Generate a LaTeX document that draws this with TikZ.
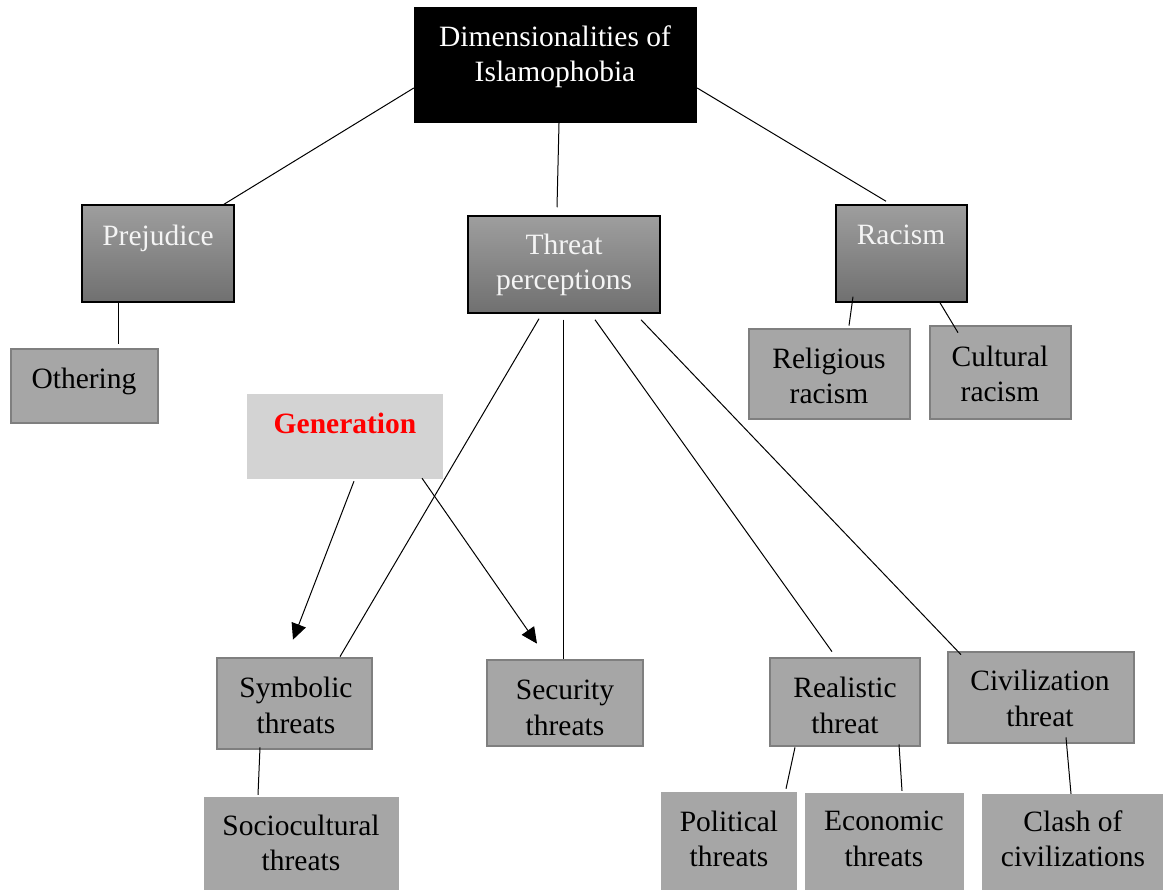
\documentclass[tikz,border=0pt]{standalone}
\usepackage{fontspec}
\setmainfont{Liberation Serif}
\usetikzlibrary{arrows.meta,calc}
\definecolor{gtop}{HTML}{9E9E9E}
\definecolor{gbot}{HTML}{707070}
\definecolor{boxfill}{HTML}{A6A6A6}
\definecolor{boxline}{HTML}{7F7F7F}
\definecolor{genfill}{HTML}{D3D3D3}
\definecolor{gentext}{HTML}{FF0000}
\definecolor{wtext}{HTML}{F4F4F4}
\begin{document}
\begin{tikzpicture}[x=1pt,y=-1pt,
  gbox/.style={draw=black, line width=1.5pt, top color=gtop, bottom color=gbot, inner sep=0pt},
  bbox/.style={fill=boxfill, draw=boxline, line width=2.7pt, inner sep=0pt},
  pbox/.style={fill=boxfill, inner sep=0pt},
  dbox/.style={fill=black, inner sep=0pt},
  genbox/.style={fill=genfill, inner sep=0pt},
  txt/.style={font=\fontsize{29.5}{35.5}\selectfont, align=center, inner sep=0pt},
  wtxt/.style={txt, text=wtext},
  link/.style={line width=1pt},
  arr/.style={link, -{Triangle[length=16pt,width=15pt]}}
]
\useasboundingbox (0,0) rectangle (1163,890);

% boxes
\node[dbox, minimum width=283pt, minimum height=116pt] (dim) at (555.5,65) {};
\node[gbox, minimum width=152pt, minimum height=97pt] (prej) at (158,253.5) {};
\node[gbox, minimum width=192pt, minimum height=97pt] (threat) at (564,264.5) {};
\node[gbox, minimum width=131pt, minimum height=97pt] (racism) at (901.5,253.5) {};
\node[bbox, minimum width=147pt, minimum height=74pt] (oth) at (84.5,386) {};
\node[bbox, minimum width=161pt, minimum height=90pt] (rel) at (829.5,374) {};
\node[bbox, minimum width=141pt, minimum height=93pt] (cul) at (1000.5,372.5) {};
\node[genbox, minimum width=196pt, minimum height=85pt] (gen) at (345,436.5) {};
\node[bbox, minimum width=155pt, minimum height=91pt] (sym) at (294.5,703.5) {};
\node[bbox, minimum width=156pt, minimum height=86pt] (sec) at (565,703) {};
\node[bbox, minimum width=150pt, minimum height=88pt] (real) at (845,702) {};
\node[bbox, minimum width=186pt, minimum height=91pt] (civ) at (1041,697.5) {};
\node[pbox, minimum width=195pt, minimum height=93pt] (soc) at (301.5,843.5) {};
\node[pbox, minimum width=136pt, minimum height=98pt] (pol) at (729,841) {};
\node[pbox, minimum width=159pt, minimum height=97pt] (eco) at (884.5,841.5) {};
\node[pbox, minimum width=181pt, minimum height=96pt] (clash) at (1072.5,842) {};

% texts
\node[wtxt, text=white] (dimt) at (555,57) {Dimensionalities of\\Islamophobia};
\node[wtxt] (prejt) at (158,238) {Prejudice};
\node[wtxt] (threatt) at (564,265) {Threat\\perceptions};
\node[wtxt] (racismt) at (901,235) {Racism};
\node[txt] (otht) at (84,381) {Othering};
\node[txt] (relt) at (829,376) {Religious\\racism};
\node[txt] (cult) at (1000,374) {Cultural\\racism};
\node[txt, text=gentext, font=\fontsize{29.5}{35.5}\selectfont\bfseries] (gent) at (345,423) {Generation};
\node[txt] (symt) at (296,705.5) {Symbolic\\threats};
\node[txt] (sect) at (565,708) {Security\\threats};
\node[txt] (realt) at (845,705.5) {Realistic\\threat};
\node[txt] (civt) at (1040,698.5) {Civilization\\threat};
\node[txt] (soct) at (301,843) {Sociocultural\\threats};
\node[txt] (polt) at (729,839) {Political\\threats};
\node[txt] (ecot) at (884,839) {Economic\\threats};
\node[txt] (clasht) at (1073,839) {Clash of\\civilizations};

% connectors
\draw[link] ($(dim.west)+(0,23)$) -- ($(prej.north)+(66,0)$);
\draw[link] ($(dim.south)+(3.5,0)$) -- ($(threat.north)+(-7,-8)$);
\draw[link] ($(dim.east)+(0,23)$) -- ($(racism.north)+(-15.5,-3)$);
\draw[link] ($(prej.south)+(-40,0)$) -- ($(oth.north)+(33.5,-4)$);
\draw[link] ($(threat.south)+(-25,5)$) -- ($(sym.north)+(45.5,0)$);
\draw[link] ($(threat.south)+(-1,6)$) -- ($(sec.north)+(-2,0)$);
\draw[link] ($(threat.south)+(31,6)$) -- ($(real.north)+(-13,-5)$);
\draw[link] ($(threat.south)+(77,6)$) -- ($(civ.north)+(-80,4)$);
\draw[link] ($(racism.south)+(-48.5,-6)$) -- ($(rel.north)+(19.5,-2)$);
\draw[link] ($(racism.south)+(38.5,0)$) -- ($(cul.north)+(-42.5,8)$);
\draw[arr] ($(gen.south)+(9,2)$) -- ($(sym.north)+(-1.5,-17)$);
\draw[arr] ($(gen.south)+(77,-1)$) -- ($(sec.north)+(-28,-15)$);
\draw[link] ($(sym.south)+(-34.5,-3)$) -- ($(soc.north)+(-43.5,-2)$);
\draw[link] ($(real.south)+(-50,0)$) -- ($(pol.north)+(57,-3)$);
\draw[link] ($(real.south)+(54,-3)$) -- ($(eco.north)+(17.5,-2)$);
\draw[link] ($(civ.south)+(25,-7)$) -- ($(clash.north)+(-1.5,0)$);
\end{tikzpicture}
\end{document}
